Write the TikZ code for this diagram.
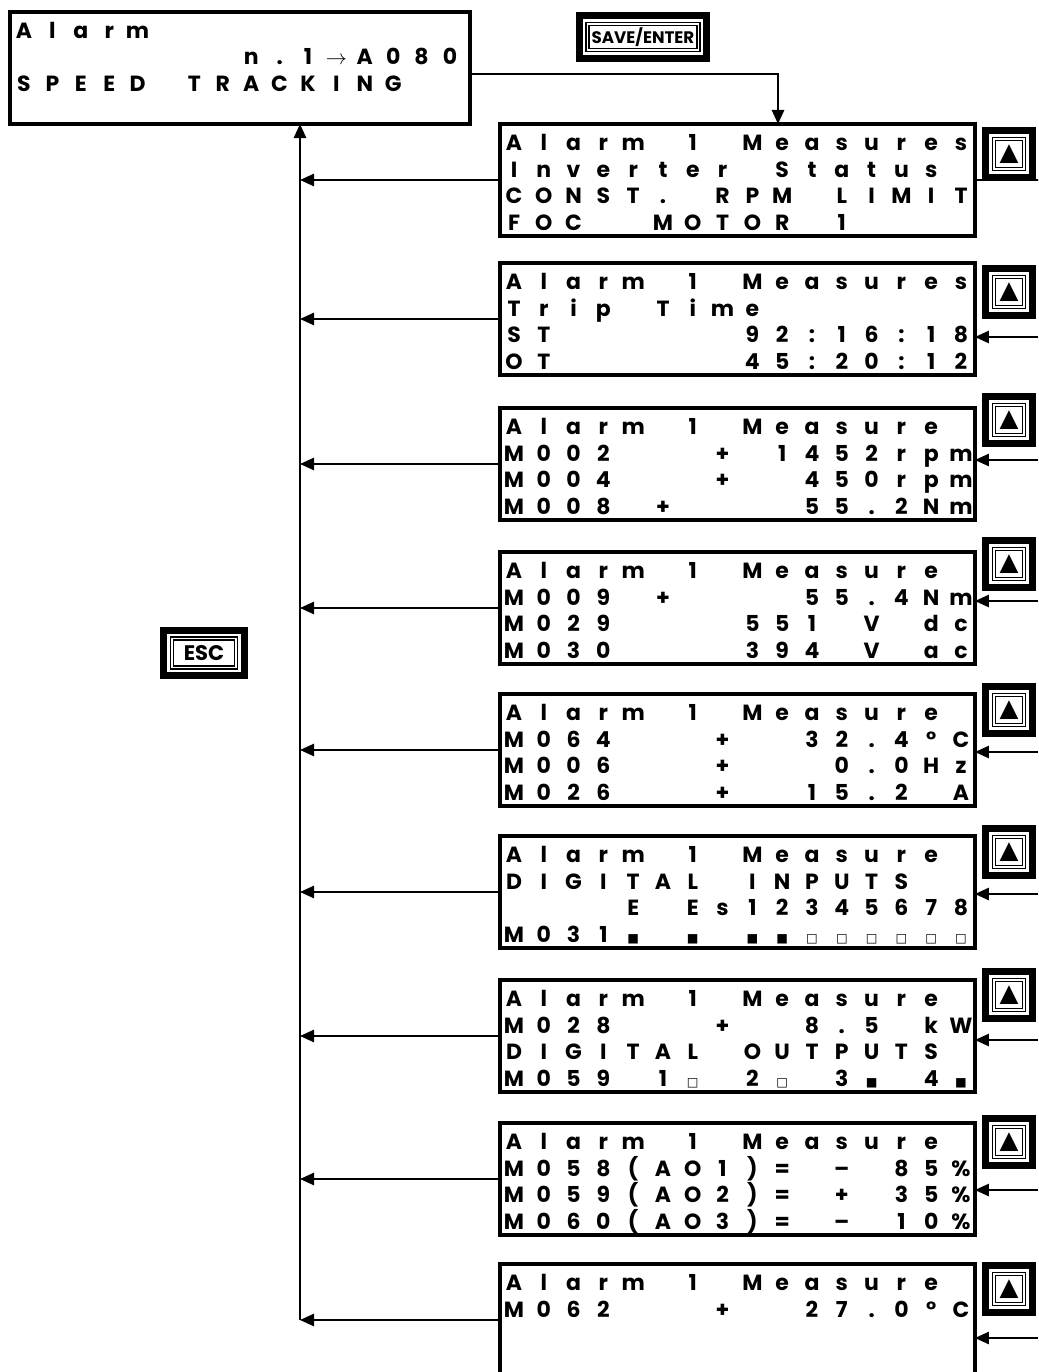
\documentclass[tikz,border=0pt]{standalone}
\usepackage{fontspec}
\setmainfont{Poppins}
\newfontfamily\symfont{DejaVu Sans}
\usetikzlibrary{arrows.meta}

\newcommand\ledon{{\symfont\fontsize{7}{8}\selectfont ■}}
\newcommand\ledoff{{\symfont\fontsize{7}{8}\selectfont □}}
% one display line: box, row, cell width, characters
\newcommand\lcdrow[4]{%
  \foreach \ch [count=\k] in {#4}
    \node[lcdchar] (#1-#2-\k) at ([shift={({14+(\k-1)*#3},{26.5*#2})}]#1.north west) {\ch};}
% key with thick frame
\newcommand\keybox[5]{%
  \node[keybtn,minimum width=#3,minimum height=#4] (#1) at (#2) {#5};
  \draw[keyframe] ([xshift=-4.8pt,yshift=4.8pt]#1.north west)
    rectangle ([xshift=4.8pt,yshift=-4.8pt]#1.south east);}

\begin{document}
\begin{tikzpicture}[x=0.02cm,y=-0.02cm,
    lcd/.style={draw,line width=2.3pt,anchor=north west,outer sep=0pt,inner sep=0pt,
      minimum width=9.5cm,minimum height=2.24cm},
    lcdchar/.style={anchor=base,inner sep=0pt,font=\bfseries\fontsize{12.5}{14}\selectfont},
    keybtn/.style={draw,double,double distance=1.1pt,line width=.8pt,outer sep=0pt,
      inner sep=1.5pt,font=\bfseries\fontsize{9.5}{11}\selectfont},
    keyframe/.style={line width=4pt},
    conn/.style={line width=1.1pt},
    tip/.style={-{Triangle[length=8pt,width=7pt]}}]
  \useasboundingbox (0,0) rectangle (1038,1372);

  \node[lcd,minimum width=9.2cm] (alm) at (10,12) {};
  \lcdrow{alm}{1}{28.4}{A,l,a,r,m}
  \lcdrow{alm}{2}{28.4}{,,,,,,,,n,.,1,$\rightarrow$,A,0,8,0}
  \lcdrow{alm}{3}{28.4}{S,P,E,E,D,,T,R,A,C,K,I,N,G}

  \keybox{save}{643,37}{2.22cm}{0.52cm}{SAVE/ENTER}
  \keybox{esc}{204,653}{1.28cm}{0.58cm}{\fontsize{12}{13}\selectfont ESC}

  \coordinate (bus) at (300,1320);
  \draw[conn,tip] (bus) -- (bus |- alm.south);

  \foreach \n/\t/\b in {1/124/127,2/263/265,3/408/393,4/552/537,5/694/683,
      6/836/825,7/980/968,8/1123/1115,9/1264/1262}{
    \node[lcd] (m\n) at (500,\t) {};
    \keybox{up\n}{1009,\b+27}{0.6cm}{0.6cm}{\symfont\fontsize{14}{15}\selectfont ▲}
    \draw[conn,tip] (m\n.west) -- (m\n.west -| bus);
  }

  \foreach \n/\r in {2/337,3/460,4/601,5/752,6/894,7/1040,8/1190,9/1338}{
    \coordinate (in\n) at (1038,\r);
    \draw[conn,tip] (in\n) -- (m\n.east |- in\n);
  }

  \coordinate (enter) at (778,74);
  \draw[conn,tip] (alm.east |- enter) -| (m1.north -| enter);
  \coordinate (loop) at (1038,180);
  \draw[conn] (m1.east) -- (loop);

  \lcdrow{m1}{1}{29.8}{A,l,a,r,m,,1,,M,e,a,s,u,r,e,s}
  \lcdrow{m1}{2}{29.8}{I,n,v,e,r,t,e,r,,S,t,a,t,u,s}
  \lcdrow{m1}{3}{29.8}{C,O,N,S,T,.,,R,P,M,,L,I,M,I,T}
  \lcdrow{m1}{4}{29.8}{F,O,C,,,M,O,T,O,R,,1}

  \lcdrow{m2}{1}{29.8}{A,l,a,r,m,,1,,M,e,a,s,u,r,e,s}
  \lcdrow{m2}{2}{29.8}{T,r,i,p,,T,i,m,e}
  \lcdrow{m2}{3}{29.8}{S,T,,,,,,,9,2,:,1,6,:,1,8}
  \lcdrow{m2}{4}{29.8}{O,T,,,,,,,4,5,:,2,0,:,1,2}

  \lcdrow{m3}{1}{29.8}{A,l,a,r,m,,1,,M,e,a,s,u,r,e}
  \lcdrow{m3}{2}{29.8}{M,0,0,2,,,,+,,1,4,5,2,r,p,m}
  \lcdrow{m3}{3}{29.8}{M,0,0,4,,,,+,,,4,5,0,r,p,m}
  \lcdrow{m3}{4}{29.8}{M,0,0,8,,+,,,,,5,5,.,2,N,m}

  \lcdrow{m4}{1}{29.8}{A,l,a,r,m,,1,,M,e,a,s,u,r,e}
  \lcdrow{m4}{2}{29.8}{M,0,0,9,,+,,,,,5,5,.,4,N,m}
  \lcdrow{m4}{3}{29.8}{M,0,2,9,,,,,5,5,1,,V,,d,c}
  \lcdrow{m4}{4}{29.8}{M,0,3,0,,,,,3,9,4,,V,,a,c}

  \lcdrow{m5}{1}{29.8}{A,l,a,r,m,,1,,M,e,a,s,u,r,e}
  \lcdrow{m5}{2}{29.8}{M,0,6,4,,,,+,,,3,2,.,4,°,C}
  \lcdrow{m5}{3}{29.8}{M,0,0,6,,,,+,,,,0,.,0,H,z}
  \lcdrow{m5}{4}{29.8}{M,0,2,6,,,,+,,,1,5,.,2,,A}

  \lcdrow{m6}{1}{29.8}{A,l,a,r,m,,1,,M,e,a,s,u,r,e}
  \lcdrow{m6}{2}{29.8}{D,I,G,I,T,A,L,,I,N,P,U,T,S}
  \lcdrow{m6}{3}{29.8}{,,,,E,,E,s,1,2,3,4,5,6,7,8}
  \lcdrow{m6}{4}{29.8}{M,0,3,1,\ledon,,\ledon,,\ledon,\ledon,\ledoff,\ledoff,\ledoff,\ledoff,\ledoff,\ledoff}

  \lcdrow{m7}{1}{29.8}{A,l,a,r,m,,1,,M,e,a,s,u,r,e}
  \lcdrow{m7}{2}{29.8}{M,0,2,8,,,,+,,,8,.,5,,k,W}
  \lcdrow{m7}{3}{29.8}{D,I,G,I,T,A,L,,O,U,T,P,U,T,S}
  \lcdrow{m7}{4}{29.8}{M,0,5,9,,1,\ledoff,,2,\ledoff,,3,\ledon,,4,\ledon}

  \lcdrow{m8}{1}{29.8}{A,l,a,r,m,,1,,M,e,a,s,u,r,e}
  \lcdrow{m8}{2}{29.8}{M,0,5,8,{(},A,O,1,{)},=,,–,,8,5,\%}
  \lcdrow{m8}{3}{29.8}{M,0,5,9,{(},A,O,2,{)},=,,+,,3,5,\%}
  \lcdrow{m8}{4}{29.8}{M,0,6,0,{(},A,O,3,{)},=,,–,,1,0,\%}

  \lcdrow{m9}{1}{29.8}{A,l,a,r,m,,1,,M,e,a,s,u,r,e}
  \lcdrow{m9}{2}{29.8}{M,0,6,2,,,,+,,,2,7,.,0,°,C}
\end{tikzpicture}
\end{document}
